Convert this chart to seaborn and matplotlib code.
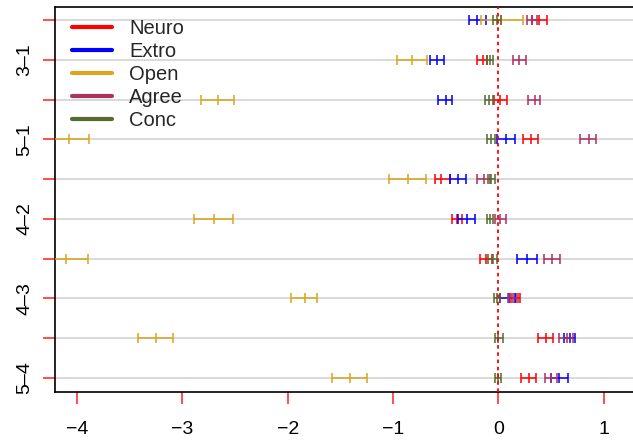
import matplotlib
matplotlib.use('Agg')
import matplotlib.pyplot as plt
from matplotlib.lines import Line2D
import seaborn as sns
import numpy as np

# ---- data ----
rows = ["2–1", "3–1", "4–1", "5–1", "3–2", "4–2", "5–2", "4–3", "5–3", "5–4"]
shown_labels = ["", "3–1", "", "5–1", "", "4–2", "", "4–3", "", "5–4"]
series = ["Neuro", "Extro", "Open", "Agree", "Conc"]
colors = ["#FF0000", "#0000FF", "#DAA520", "#B03060", "#556B2F"]

neuro_mean = [0.39, -0.15, 0.015, 0.31, -0.54, -0.39, -0.115, 0.17, 0.45, 0.29]
neuro_lo = [0.32, -0.20, -0.04, 0.23, -0.60, -0.44, -0.17, 0.12, 0.38, 0.22]
neuro_hi = [0.46, -0.11, 0.08, 0.38, -0.46, -0.34, -0.06, 0.21, 0.52, 0.36]

extro_mean = [-0.20, -0.585, -0.50, 0.07, -0.38, -0.30, 0.275, 0.10, 0.68, 0.58]
extro_lo = [-0.28, -0.65, -0.57, -0.01, -0.46, -0.38, 0.18, 0.02, 0.62, 0.50]
extro_hi = [-0.12, -0.52, -0.44, 0.16, -0.31, -0.22, 0.37, 0.16, 0.73, 0.66]

open_mean = [0.03, -0.82, -2.665, -4.08, -0.86, -2.70, -4.11, -1.84, -3.25, -1.41]
open_lo = [-0.16, -0.965, -2.82, -4.27, -1.035, -2.89, -4.32, -1.97, -3.42, -1.58]
open_hi = [0.23, -0.68, -2.51, -3.89, -0.69, -2.52, -3.90, -1.72, -3.09, -1.25]

agree_mean = [0.32, 0.20, 0.345, 0.86, -0.14, 0.02, 0.51, 0.14, 0.65, 0.50]
agree_lo = [0.27, 0.14, 0.285, 0.78, -0.205, -0.03, 0.43, 0.09, 0.58, 0.44]
agree_hi = [0.37, 0.26, 0.40, 0.93, -0.08, 0.07, 0.59, 0.19, 0.71, 0.56]

conc_mean = [-0.01, -0.08, -0.09, -0.07, -0.065, -0.08, -0.05, -0.01, 0.00, 0.00]
conc_lo = [-0.05, -0.11, -0.125, -0.11, -0.095, -0.11, -0.095, -0.04, -0.03, -0.03]
conc_hi = [0.03, -0.05, -0.05, -0.03, -0.03, -0.05, -0.01, 0.02, 0.04, 0.03]

x_ticks = [-4, -3, -2, -1, 0, 1]

means = [neuro_mean, extro_mean, open_mean, agree_mean, conc_mean]
los = [neuro_lo, extro_lo, open_lo, agree_lo, conc_lo]
his = [neuro_hi, extro_hi, open_hi, agree_hi, conc_hi]

# ---- plot ----
sns.set_theme(style="white")
plt.rcParams['font.family'] = ['Liberation Sans', 'DejaVu Sans']

fig = plt.figure(figsize=(6.33, 4.41), dpi=100)
ax = fig.add_axes([55 / 633, 1 - 392 / 441, (640 - 55) / 633, (392 - 7) / 441])

ypos = np.arange(len(rows))
for name, col, m, lo, hi in zip(series, colors, means, los, his):
    m = np.array(m); lo = np.array(lo); hi = np.array(hi)
    ax.errorbar(m, ypos, xerr=[m - lo, hi - m], fmt='none', ecolor=col,
                elinewidth=1.4, capsize=3.4, capthick=1.4, alpha=0.8, zorder=3)
    sns.scatterplot(x=m, y=ypos, marker='|', s=46, color=col, linewidth=1.4,
                    alpha=0.8, ax=ax, zorder=3, legend=False)

ax.axvline(0, color='red', linestyle=(0, (2, 2)), linewidth=1.3, zorder=4)

ax.set_xlim((55 - 498.3) / 105.3, (640 - 498.3) / 105.3)
ax.set_ylim(9 + 14 / 39.75, -13 / 39.75)
ax.set_xticks(x_ticks)
ax.set_xticklabels([f"−{abs(t)}" if t < 0 else str(t) for t in x_ticks], fontsize=14)
ax.set_yticks(ypos)
ax.set_yticklabels(shown_labels, fontsize=14, rotation=90, va='center')
ax.yaxis.grid(True, color='#d9d9d9', linewidth=1.4, zorder=0)
ax.xaxis.grid(False)
ax.set_axisbelow(True)
ax.tick_params(axis='both', direction='out', length=8.6, width=1.3,
               color=(1, 0, 0, 0.75), labelcolor='black', bottom=True, left=True)
ax.tick_params(axis='x', pad=12)
ax.tick_params(axis='y', pad=7)
for s in ['left', 'bottom', 'top']:
    ax.spines[s].set_color('black')
    ax.spines[s].set_linewidth(1.2)
ax.spines['right'].set_visible(False)
ax.set_xlabel('')
ax.set_ylabel('')

handles = [Line2D([0], [0], color=c, lw=3) for c in colors]
ax.legend(handles, series, loc='upper left', frameon=False, fontsize=14.5,
          handlelength=2.0, handletextpad=0.85, labelspacing=0.2,
          borderpad=0, borderaxespad=0, bbox_to_anchor=((72 - 55) / 585, 1 - (19 - 7) / 385))

fig.savefig('out.png', dpi=100)
